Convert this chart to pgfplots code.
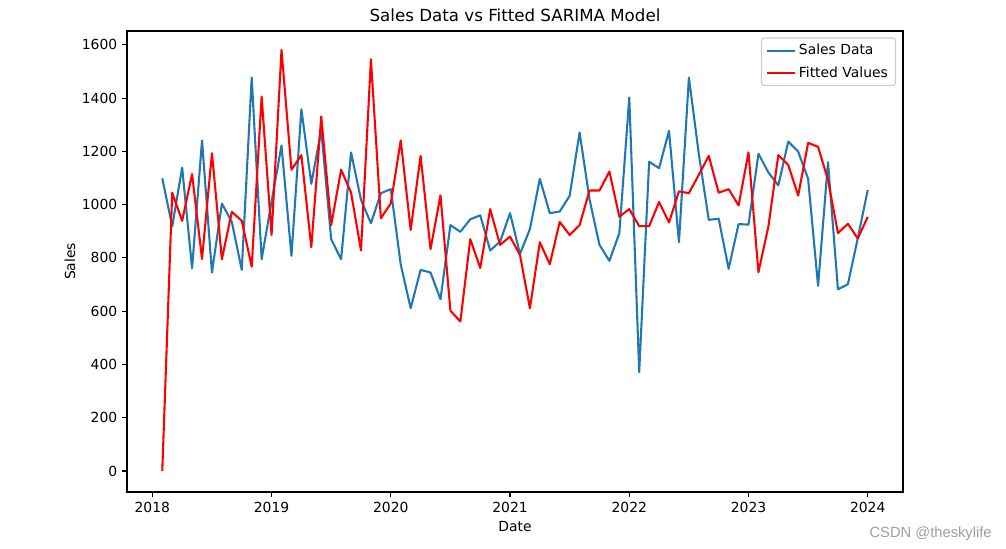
\documentclass[border=0pt]{standalone}
\usepackage{fontspec}
\setmainfont{DejaVu Sans}
\newfontfamily\wmfont{Liberation Sans}
\usepackage{pgfplots}
\pgfplotsset{compat=1.18}
\usepackage{pgfplotstable}
\definecolor{mplblue}{HTML}{1F77B4}
\definecolor{mplred}{HTML}{FF0000}

\pgfplotstableread{
x sales fitted
1 1099 0
2 918 1045
3 1139 939
4 761 1115
5 1241 796
6 745 1193
7 1004 795
8 935 973
9 755 939
10 1477 767
11 795 1406
12 1011 886
13 1222 1581
14 808 1131
15 1358 1186
16 1078 840
17 1281 1331
18 870 923
19 795 1131
20 1196 1045
21 1018 828
22 930 1546
23 1043 949
24 1058 1005
25 775 1241
26 611 905
27 755 1183
28 745 833
29 645 1035
30 923 602
31 898 561
32 945 870
33 960 762
34 828 983
35 861 849
36 968 880
37 815 811
38 908 611
39 1097 859
40 968 776
41 974 935
42 1033 886
43 1271 923
44 1020 1053
45 849 1053
46 789 1124
47 893 955
48 1402 983
49 371 919
50 1161 919
51 1137 1010
52 1277 933
53 859 1050
54 1477 1043
55 1190 1112
56 943 1183
57 947 1045
58 759 1058
59 927 997
60 925 1196
61 1191 746
62 1121 918
63 1072 1186
64 1237 1149
65 1199 1034
66 1097 1232
67 695 1217
68 1159 1093
69 682 893
70 701 928
71 874 873
72 1055 954
}\datatable

\begin{document}
\begin{tikzpicture}
\useasboundingbox (0,0) rectangle (724.32pt,395.28pt);
\begin{axis}[
  at={(91.44pt,41.04pt)}, anchor=south west,
  scale only axis, width=558.72pt, height=331.92pt,
  xmin=-2.55, xmax=75.55, ymin=-79, ymax=1652,
  xtick={0,12,24,36,48,60,72},
  xticklabels={2018,2019,2020,2021,2022,2023,2024},
  ytick={0,200,400,600,800,1000,1200,1400,1600},
  scaled y ticks=false,
  /pgf/number format/assume math mode=true,
  /pgf/number format/set thousands separator={},
  xtick pos=bottom, ytick pos=left,
  tick align=outside,
  major tick length=3.5pt,
  tick style={black, line width=0.8pt},
  axis line style={black, line width=0.8pt},
  ticklabel style={font=\fontsize{10}{12}\selectfont},
  label style={font=\fontsize{10}{12}\selectfont},
  title={Sales Data vs Fitted SARIMA Model},
  title style={font=\fontsize{12}{14}\selectfont, at={(axis description cs:0.5,1)}, anchor=base, yshift=0.5pt},
  xlabel={Date},
  xlabel style={at={(axis description cs:0.5,-0.0848)}, anchor=base},
  ylabel={Sales},
  ylabel style={at={(axis description cs:-0.067,0.5)}, anchor=base},
  legend cell align=left,
  legend style={at={(axis description cs:0.991,0.986)}, anchor=north east,
    draw=black!20, rounded corners=2pt, line width=0.8pt,
    font=\fontsize{10}{12}\selectfont, inner xsep=3.5pt, inner ysep=2.5pt, row sep=3pt},
  legend image code/.code={\draw[#1] (0pt,0pt) -- (20pt,0pt);},
]
\addplot[mplblue, line width=1.5pt, line join=round] table[x=x, y=sales] {\datatable};
\addlegendentry{Sales Data}
\addplot[mplred, line width=1.5pt, line join=round] table[x=x, y=fitted] {\datatable};
\addlegendentry{Fitted Values}
\end{axis}
\node[anchor=base east, text=black!38, font=\wmfont\fontsize{10.6}{12}\selectfont, inner sep=0pt] at (714.2pt,8.4pt) {CSDN @theskylife};
\end{tikzpicture}
\end{document}
